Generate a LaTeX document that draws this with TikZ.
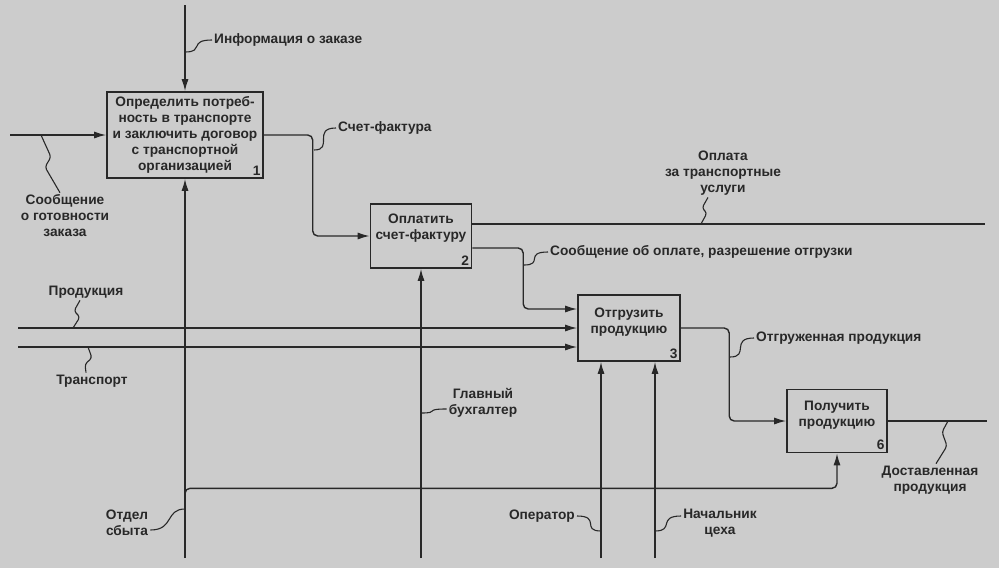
\documentclass[tikz,border=0pt]{standalone}
\usepackage{fontspec}
\setmainfont{Liberation Sans}
\usetikzlibrary{arrows.meta,calc}

\definecolor{paper}{RGB}{204,204,204}
\definecolor{ink}{RGB}{40,40,40}

\begin{document}
\begin{tikzpicture}[x=1pt,y=-1pt,
    fn/.style={draw=ink,line width=1.6pt,fill=paper,inner sep=0pt},
    fntext/.style={text=ink,align=center,inner sep=1pt,font=\bfseries\fontsize{13.7}{16}\selectfont},
    lab/.style={text=ink,align=center,inner sep=2pt,font=\bfseries\fontsize{13.7}{16}\selectfont},
    num/.style={text=ink,anchor=south east,inner sep=3pt,font=\bfseries\fontsize{13.7}{14}\selectfont},
    flow/.style={draw=ink,line width=1.4pt,rounded corners=5pt,-{Latex[length=12pt,width=7pt]}},
    arc/.style={draw=ink,line width=1.4pt,rounded corners=5pt},
    squig/.style={draw=ink,line width=1.1pt,rounded corners=3pt}]
  \fill[paper](0,0)rectangle(999,568);
  \useasboundingbox (0,0) rectangle (999,568);
  % functions
  \node[fn,minimum width=156pt,minimum height=86pt](b1)at(185,135){};
  \node[fntext](t1)at(185,135){Определить потреб-\\ность в транспорте\\и заключить договор\\с транспортной\\организацией};
  \node[num](n1)at(b1.south east){1};
  \node[fn,minimum width=101pt,minimum height=64pt](b2)at(421,236){};
  \node[fntext](t2)at(421,228){Оплатить\\счет-фактуру};
  \node[num](n2)at(b2.south east){2};
  \node[fn,minimum width=102pt,minimum height=66pt](b3)at(629,328){};
  \node[fntext](t3)at(629,322){Отгрузить\\продукцию};
  \node[num](n3)at(b3.south east){3};
  \node[fn,minimum width=100pt,minimum height=63pt](b6)at(837,421){};
  \node[fntext](t6)at(837,415){Получить\\продукцию};
  \node[num](n6)at(b6.south east){6};
  % free ends
  \coordinate(info-in)at(185,5);
  \coordinate(msg-in)at(10,135);
  \coordinate(prod-in)at(18,328);
  \coordinate(tr-in)at(18,347);
  \coordinate(pay-out)at(985,224);
  \coordinate(deliv-out)at(987,421);
  \coordinate(sales-in)at(185,558);
  \coordinate(sales-br)at(185,500);
  \coordinate(acc-in)at(421,558);
  \coordinate(op-in)at(601,558);
  \coordinate(chief-in)at(655,558);
  % arrows
  \draw[flow](info-in)--(b1.north);
  \draw[flow](msg-in)--(b1.west);
  \draw[flow](b1.east)-|([xshift=-57pt]b2.west)--(b2.west);
  \draw[arc]([yshift=12pt]b2.east)--(pay-out);
  \draw[flow]([yshift=-12pt]b2.east)-|([xshift=-54pt,yshift=19pt]b3.west)--([yshift=19pt]b3.west);
  \draw[flow](prod-in)--(b3.west);
  \draw[flow](tr-in)--([yshift=-19pt]b3.west);
  \draw[flow](b3.east)-|([xshift=-57pt]b6.west)--(b6.west);
  \draw[arc](b6.east)--(deliv-out);
  \draw[flow](sales-in)--(b1.south);
  \draw[flow](sales-br)|-([yshift=-35pt]b6.south)--(b6.south);
  \draw[flow](acc-in)--(b2.south);
  \draw[flow](op-in)--([xshift=-28pt]b3.south);
  \draw[flow](chief-in)--([xshift=26pt]b3.south);
  % labels
  \node[lab,anchor=west](l-info)at(212,40){Информация о заказе};
  \node[lab](l-msg)at(65,216){Сообщение\\о готовности\\заказа};
  \node[lab,anchor=west](l-inv)at(336,128){Счет-фактура};
  \node[lab](l-pay)at(723,173){Оплата\\за транспортные\\услуги};
  \node[lab,anchor=west](l-perm)at(548,252){Сообщение об оплате, разрешение отгрузки};
  \node[lab](l-prod)at(86,292){Продукция};
  \node[lab](l-tr)at(92,381){Транспорт};
  \node[lab](l-acc)at(483,403){Главный\\бухгалтер};
  \node[lab](l-sales)at(127,523){Отдел\\сбыта};
  \node[lab,anchor=east](l-op)at(577,516){Оператор};
  \node[lab](l-chief)at(720,523){Начальник\\цеха};
  \node[lab,anchor=west](l-ship)at(754,338){Отгруженная продукция};
  \node[lab](l-deliv)at(930,480){Доставленная\\продукция};
  % squiggles
  \coordinate(s-info)at(185,52);
  \coordinate(s-msg)at(41,135);
  \coordinate(s-inv)at(314,150);
  \coordinate(s-pay)at(701,224);
  \coordinate(s-perm)at(524,265);
  \coordinate(s-prod)at(73,328);
  \coordinate(s-tr)at(88,347);
  \coordinate(s-acc)at(421,413);
  \coordinate(s-sales)at(185,509);
  \coordinate(s-op)at(601,531);
  \coordinate(s-chief)at(655,531);
  \coordinate(s-ship)at(730,357);
  \coordinate(s-deliv)at(948,421);
  \draw[squig](s-info)..controls +(20,0) and +(-24,0)..(l-info.west);
  \draw[squig](s-msg)--++(10,22)--++(-6,10)--([xshift=-5pt]l-msg.north);
  \draw[squig](s-inv)..controls +(20,0) and +(-24,0)..(l-inv.west);
  \draw[squig](s-pay)--++(6,-11)--++(-5,-5)--([xshift=-15pt]l-pay.south);
  \draw[squig](s-perm)..controls +(20,0) and +(-24,0)..(l-perm.west);
  \draw[squig](s-prod)--++(7,-11)--++(-6,-6)--([xshift=-6pt]l-prod.south);
  \draw[squig](s-tr)--++(4,11)--++(-7,6)--([xshift=-6pt]l-tr.north);
  \draw[squig](s-acc)..controls +(20,0) and +(-24,0)..([yshift=-6pt]l-acc.west);
  \draw[squig](s-sales)..controls +(-20,0) and +(24,0)..([yshift=-7pt]l-sales.east);
  \draw[squig](s-op)..controls +(-20,0) and +(24,0)..(l-op.east);
  \draw[squig](s-chief)..controls +(20,0) and +(-24,0)..([yshift=7pt]l-chief.west);
  \draw[squig](s-ship)..controls +(20,0) and +(-24,0)..(l-ship.west);
  \draw[squig](s-deliv)--++(-6,11)--++(5,14)--([xshift=6pt]l-deliv.north);
\end{tikzpicture}
\end{document}
